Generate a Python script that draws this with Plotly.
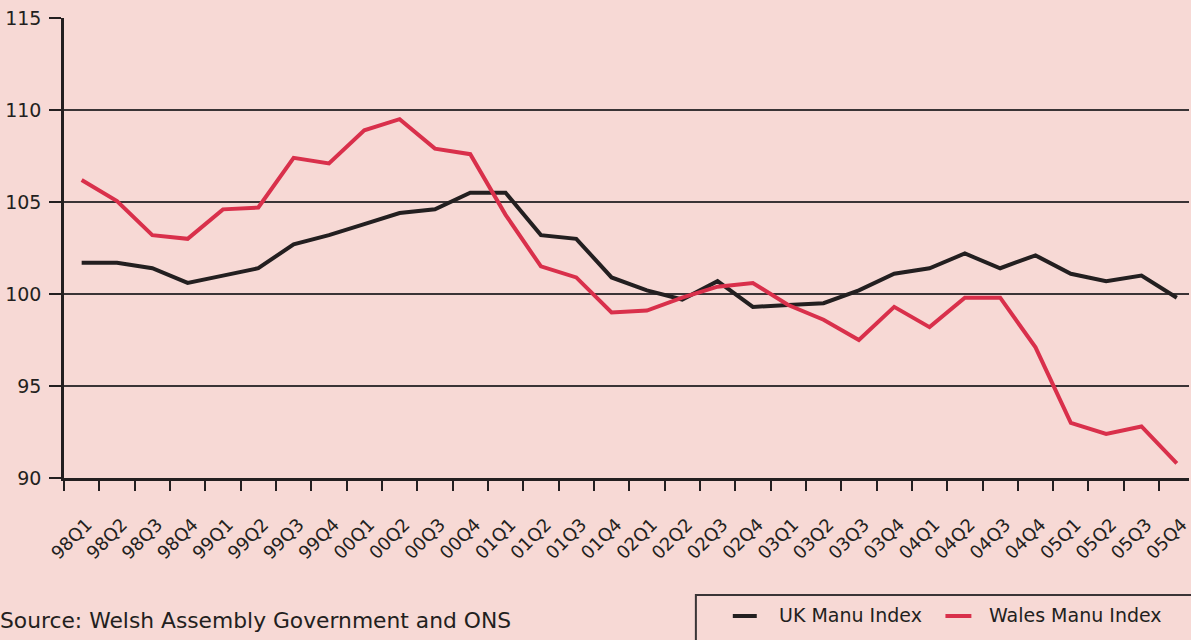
import plotly.graph_objects as go

quarters = ["98Q1", "98Q2", "98Q3", "98Q4", "99Q1", "99Q2", "99Q3", "99Q4",
            "00Q1", "00Q2", "00Q3", "00Q4", "01Q1", "01Q2", "01Q3", "01Q4",
            "02Q1", "02Q2", "02Q3", "02Q4", "03Q1", "03Q2", "03Q3", "03Q4",
            "04Q1", "04Q2", "04Q3", "04Q4", "05Q1", "05Q2", "05Q3", "05Q4"]
uk_index = [101.7, 101.7, 101.4, 100.6, 101.0, 101.4, 102.7, 103.2,
            103.8, 104.4, 104.6, 105.5, 105.5, 103.2, 103.0, 100.9,
            100.2, 99.7, 100.7, 99.3, 99.4, 99.5, 100.2, 101.1,
            101.4, 102.2, 101.4, 102.1, 101.1, 100.7, 101.0, 99.8]
wales_index = [106.2, 105.05, 103.2, 103.0, 104.6, 104.7, 107.4, 107.1,
               108.9, 109.5, 107.9, 107.6, 104.3, 101.5, 100.9, 99.0,
               99.1, 99.8, 100.4, 100.6, 99.4, 98.6, 97.5, 99.3,
               98.2, 99.8, 99.8, 97.1, 93.0, 92.4, 92.8, 90.8]
y_ticks = [90, 95, 100, 105, 110, 115]
series_names = ["UK Manu Index", "Wales Manu Index"]
source_text = "Source: Welsh Assembly Government and ONS"

BG = "#F7D9D5"
INK = "#231F20"
RED = "#D9304B"
FONT = "DejaVu Sans"

W, H = 1191, 640
L, T, B, R = 64, 18, 162, 0
PW, PH = W - L - R, H - T - B


def px_x(px):
    return (px - L) / PW


def px_y(py):
    return (H - B - py) / PH


fig = go.Figure()
fig.add_trace(go.Scatter(x=quarters, y=uk_index, mode="lines", name=series_names[0],
                         line=dict(color=INK, width=4)))
fig.add_trace(go.Scatter(x=quarters, y=wales_index, mode="lines", name=series_names[1],
                         line=dict(color=RED, width=4)))

fig.update_layout(
    width=W, height=H,
    margin=dict(l=L, r=R, t=T, b=B, pad=0),
    paper_bgcolor=BG, plot_bgcolor=BG,
    font=dict(family=FONT, size=19, color=INK),
    showlegend=False,
)
fig.update_xaxes(
    type="category", range=[-0.5, 31.345], tickson="boundaries",
    ticks="outside", ticklen=10, tickwidth=2, tickcolor=INK,
    showgrid=False, showline=True, linecolor=INK, linewidth=3,
    tickangle=-45, tickfont=dict(size=18, color=INK),
    ticklabelstandoff=26, ticklabelshift=5,
)
fig.update_yaxes(
    range=[90, 115], tickvals=y_ticks, ticks="outside", ticklen=12,
    tickwidth=2, tickcolor=INK, showgrid=True, gridcolor="#3A3436", gridwidth=2,
    showline=True, linecolor=INK, linewidth=2.5, zeroline=False,
    tickfont=dict(size=19, color=INK), ticklabelstandoff=4,
)

# source note
fig.add_annotation(xref="paper", yref="paper", x=px_x(-2), y=px_y(620),
                   xanchor="left", yanchor="middle", showarrow=False,
                   text=source_text, font=dict(size=21.8, color=INK))

# legend box (drawn manually)
fig.add_shape(type="rect", xref="paper", yref="paper",
              x0=px_x(697), x1=px_x(1205), y0=px_y(595), y1=px_y(660),
              line=dict(color="#3A3436", width=2), fillcolor=BG, layer="above")
legend_items = [(series_names[0], INK, 734, 758, 778),
                (series_names[1], RED, 947, 973, 989)]
for name, col, lx0, lx1, tx in legend_items:
    fig.add_shape(type="line", xref="paper", yref="paper",
                  x0=px_x(lx0), x1=px_x(lx1), y0=px_y(616), y1=px_y(616),
                  line=dict(color=col, width=4))
    fig.add_annotation(xref="paper", yref="paper", x=px_x(tx), y=px_y(615),
                       xanchor="left", yanchor="middle", showarrow=False,
                       text=name, font=dict(size=19, color=INK))

fig.write_html("out.html", config={"displayModeBar": False},
               post_script="document.body.style.margin='0';")
